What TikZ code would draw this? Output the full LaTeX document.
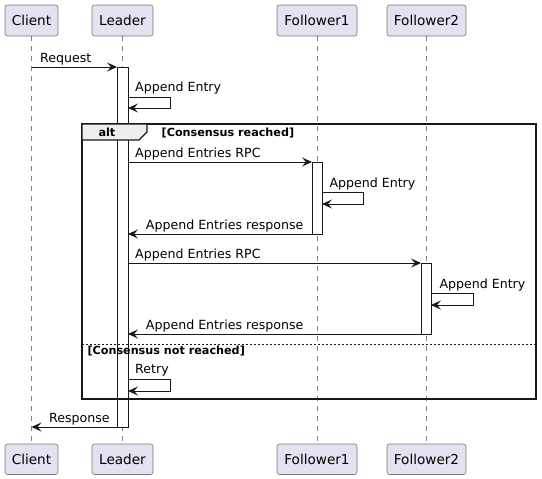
\documentclass[tikz,border=0pt]{standalone}
\usepackage{fontspec}
\setmainfont{DejaVu Sans}
\usetikzlibrary{arrows.meta}
\definecolor{partfill}{RGB}{226,226,240}
\definecolor{partdraw}{RGB}{120,120,120}
\definecolor{tabfill}{RGB}{238,238,238}
\definecolor{ink}{RGB}{24,24,24}
\tikzset{
  part/.style={draw=partdraw, fill=partfill, rounded corners=2.5pt, line width=0.6pt, inner sep=0pt, outer sep=0pt, anchor=north west},
  partlabel/.style={font=\fontsize{13.6}{16}\selectfont, inner sep=0pt, anchor=base},
  life/.style={draw=gray, line width=0.6pt, dash pattern=on 5pt off 5pt},
  act/.style={draw=ink, fill=white, line width=0.9pt, inner sep=0pt, outer sep=0pt, anchor=north west},
  msg/.style={draw=ink, line width=0.9pt, -{Stealth[length=10pt, width=9pt, inset=4pt]}},
  msglabel/.style={font=\fontsize{12.6}{15}\selectfont, inner sep=0pt, anchor=base west},
  framelabel/.style={font=\fontsize{11.2}{13}\selectfont\bfseries, inner sep=0pt, anchor=base west},
}
\begin{document}
\begin{tikzpicture}[x=1pt, y=-1pt]
\useasboundingbox (0,0) rectangle (542,479);
% participants (top)
\node[part, minimum width=53pt, minimum height=31pt] (ClientT) at (5,5) {};
\node[part, minimum width=61pt, minimum height=31pt] (LeaderT) at (92,5) {};
\node[part, minimum width=80pt, minimum height=31pt] (F1T) at (277,5) {};
\node[part, minimum width=79pt, minimum height=31pt] (F2T) at (387,5) {};
% participants (bottom)
\node[part, minimum width=53pt, minimum height=30.5pt] (ClientB) at (5,444) {};
\node[part, minimum width=61pt, minimum height=30.5pt] (LeaderB) at (92,444) {};
\node[part, minimum width=80pt, minimum height=30.5pt] (F1B) at (277,444) {};
\node[part, minimum width=79pt, minimum height=30.5pt] (F2B) at (387,444) {};
% labels
\node[partlabel] (lClientT) at (31.5,25.8) {Client};
\node[partlabel] (lLeaderT) at (122.5,25.8) {Leader};
\node[partlabel] (lF1T) at (317,25.8) {Follower1};
\node[partlabel] (lF2T) at (426.5,25.8) {Follower2};
\node[partlabel] (lClientB) at (31.5,464.5) {Client};
\node[partlabel] (lLeaderB) at (122.5,464.5) {Leader};
\node[partlabel] (lF1B) at (317,464.5) {Follower1};
\node[partlabel] (lF2B) at (426.5,464.5) {Follower2};
% lifelines
\draw[life] (ClientT.south) -- (ClientB.north);
\draw[life] (LeaderT.south) -- (LeaderB.north);
\draw[life] (F1T.south) -- (F1B.north);
\draw[life] (F2T.south) -- (F2B.north);
% activations
\node[act, minimum width=11pt, minimum height=360pt] (actL) at (117,67) {};
\node[act, minimum width=10pt, minimum height=72pt] (actF1) at (312,162) {};
\node[act, minimum width=10pt, minimum height=71pt] (actF2) at (421,263) {};
% alt frame
\draw[ink, line width=1.4pt] (82,124) rectangle (536,399);
\draw[ink, line width=1.1pt, fill=tabfill] (82,124) -- (147,124) -- (147,132) -- (139,140) -- (82,140) -- cycle;
\node[framelabel] (alt) at (98.3,136.5) {alt};
\node[framelabel] (g1) at (161.5,136.5) {[Consensus reached]};
\draw[ink, line width=0.8pt, dash pattern=on 2pt off 2pt] (82,344) -- (536,344);
\node[framelabel] (g2) at (87.3,354) {[Consensus not reached]};
% coordinates
\coordinate (c1) at (31.5,67);
\coordinate (c2) at (31.5,427);
\coordinate (s1a) at (128,97);
\coordinate (s1b) at (170,97);
\coordinate (s1c) at (170,108);
\coordinate (s1d) at (128,108);
\coordinate (r1a) at (128,162);
\coordinate (f1a) at (322,192);
\coordinate (f1b) at (363,192);
\coordinate (f1c) at (363,204);
\coordinate (f1d) at (322,204);
\coordinate (p1b) at (128,234);
\coordinate (r2a) at (128,263);
\coordinate (f2a) at (431,293);
\coordinate (f2b) at (473,293);
\coordinate (f2c) at (473,305);
\coordinate (f2d) at (431,305);
\coordinate (p2b) at (128,334);
\coordinate (t1a) at (128,379);
\coordinate (t1b) at (170,379);
\coordinate (t1c) at (170,391);
\coordinate (t1d) at (128,391);
% messages
\draw[msg] (c1) -- (actL.north west);
\node[msglabel] (mReq) at (40,62) {Request};
\draw[msg] (s1a) -- (s1b) -- (s1c) -- (s1d);
\node[msglabel] (mAE1) at (135,92) {Append Entry};
\draw[msg] (r1a) -- (actF1.north west);
\node[msglabel] (mRPC1) at (135,157.5) {Append Entries RPC};
\draw[msg] (f1a) -- (f1b) -- (f1c) -- (f1d);
\node[msglabel] (mAE2) at (329.3,187) {Append Entry};
\draw[msg] (actF1.south west) -- (p1b);
\node[msglabel] (mResp1) at (145.7,229) {Append Entries response};
\draw[msg] (r2a) -- (actF2.north west);
\node[msglabel] (mRPC2) at (135,258.5) {Append Entries RPC};
\draw[msg] (f2a) -- (f2b) -- (f2c) -- (f2d);
\node[msglabel] (mAE3) at (439.3,288) {Append Entry};
\draw[msg] (actF2.south west) -- (p2b);
\node[msglabel] (mResp2) at (145.7,329) {Append Entries response};
\draw[msg] (t1a) -- (t1b) -- (t1c) -- (t1d);
\node[msglabel] (mRetry) at (135,373.5) {Retry};
\draw[msg] (actL.south west) -- (c2);
\node[msglabel] (mResp) at (49,422) {Response};
\end{tikzpicture}
\end{document}
